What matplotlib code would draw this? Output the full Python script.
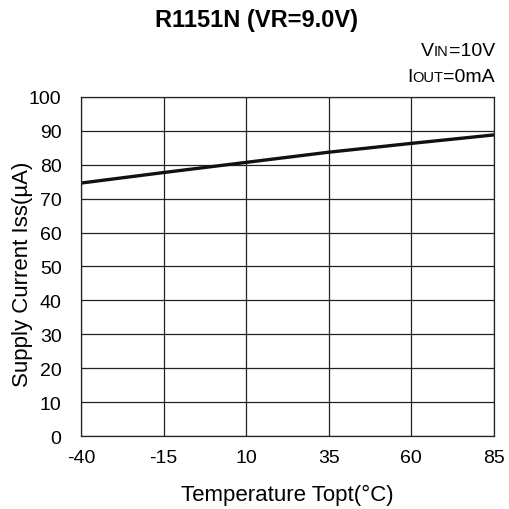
import matplotlib
matplotlib.use("Agg")
import matplotlib.pyplot as plt
import numpy as np

plt.rcParams['font.family'] = ['Liberation Sans', 'DejaVu Sans']
plt.rcParams['axes.unicode_minus'] = False

# data
temp = [-40, -15, 10, 35, 60, 85]
iss = [74.6, 77.7, 80.7, 83.7, 86.3, 88.8]
xticks = [-40, -15, 10, 35, 60, 85]
yticks = np.arange(0, 101, 10)

fig = plt.figure(figsize=(5.09, 5.10), dpi=100)
ax = fig.add_axes([0.159, 0.143, 0.8115, 0.665])

ax.plot(temp, iss, color='#111111', lw=2.4, solid_capstyle='butt')
ax.set_xlim(-40, 85)
ax.set_ylim(0, 100)
ax.set_xticks(xticks)
ax.set_yticks(yticks)
ax.grid(True, color='#222222', lw=0.9)
for s in ax.spines.values():
    s.set_color('#222222')
    s.set_linewidth(0.9)
ax.tick_params(length=0, labelsize=14)
ax.tick_params(axis='x', pad=9)
ax.tick_params(axis='y', pad=14)
ax.set_xlabel('Temperature Topt(°C)', fontsize=16)
ax.set_ylabel('Supply Current Iss(µA)', fontsize=16)
ax.xaxis.set_label_coords(0.5, -0.14)
ax.yaxis.set_label_coords(-0.117, 0.48)

fig.text(0.503, 0.959, 'R1151N (VR=9.0V)', fontsize=17, fontweight='bold',
         ha='center', va='center')

# right-aligned annotation lines with small-caps style subscripts
fig.canvas.draw()
r = fig.canvas.get_renderer()
def ann(parts, xr, y):
    x = xr
    for txt, fs in reversed(parts):
        t = fig.text(x, y, txt, fontsize=fs, ha='right', va='baseline')
        w = t.get_window_extent(renderer=r).width / fig.bbox.width
        x -= w

ann([('V', 14), ('IN', 10.5), ('=10V', 14)], 0.9725, 0.891)
ann([('I', 14), ('OUT', 10.5), ('=0mA', 14)], 0.9725, 0.840)

fig.savefig('out.png', dpi=100)
